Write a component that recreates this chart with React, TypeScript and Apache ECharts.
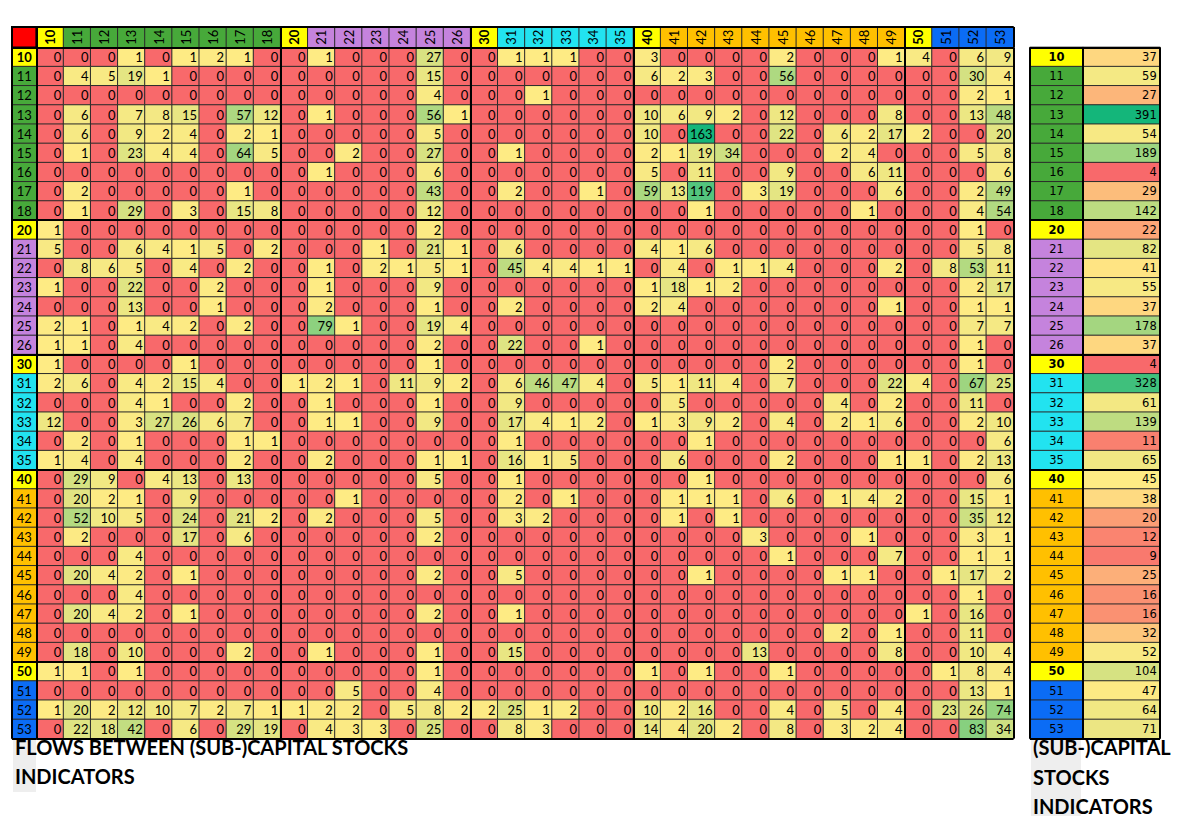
import React, { useEffect, useRef } from "react";
import * as echarts from "echarts";

// ---------- DATA ----------
const CODES = [
  "10", "11", "12", "13", "14", "15", "16", "17", "18",
  "20", "21", "22", "23", "24", "25", "26",
  "30", "31", "32", "33", "34", "35",
  "40", "41", "42", "43", "44", "45", "46", "47", "48", "49",
  "50", "51", "52", "53",
];

// rows = source indicator, columns = target indicator (same order as CODES)
const FLOWS: number[][] = [
  [0,0,0,1,0,1,2,1,0, 0,1,0,0,0,27,0, 0,1,1,1,0,0, 3,0,0,0,0,2,0,0,0,1,4, 0,6,9],
  [0,4,5,19,1,0,0,0,0, 0,0,0,0,0,15,0, 0,0,0,0,0,0, 6,2,3,0,0,56,0,0,0,0,0, 0,30,4],
  [0,0,0,0,0,0,0,0,0, 0,0,0,0,0,4,0, 0,0,1,0,0,0, 0,0,0,0,0,0,0,0,0,0,0, 0,2,1],
  [0,6,0,7,8,15,0,57,12, 0,1,0,0,0,56,1, 0,0,0,0,0,0, 10,6,9,2,0,12,0,0,0,8,0, 0,13,48],
  [0,6,0,9,2,4,0,2,1, 0,0,0,0,0,5,0, 0,0,0,0,0,0, 10,0,163,0,0,22,0,6,2,17,2, 0,0,20],
  [0,1,0,23,4,4,0,64,5, 0,0,2,0,0,27,0, 0,1,0,0,0,0, 2,1,19,34,0,0,0,2,4,0,0, 0,5,8],
  [0,0,0,0,0,0,0,0,0, 0,1,0,0,0,6,0, 0,0,0,0,0,0, 5,0,11,0,0,9,0,0,6,11,0, 0,0,6],
  [0,2,0,0,0,0,0,1,0, 0,0,0,0,0,43,0, 0,2,0,0,1,0, 59,13,119,0,3,19,0,0,0,6,0, 0,2,49],
  [0,1,0,29,0,3,0,15,8, 0,0,0,0,0,12,0, 0,0,0,0,0,0, 0,0,1,0,0,0,0,0,1,0,0, 0,4,54],
  [1,0,0,0,0,0,0,0,0, 0,0,0,0,0,2,0, 0,0,0,0,0,0, 0,0,0,0,0,0,0,0,0,0,0, 0,1,0],
  [5,0,0,6,4,1,5,0,2, 0,0,0,1,0,21,1, 0,6,0,0,0,0, 4,1,6,0,0,0,0,0,0,0,0, 0,5,8],
  [0,8,6,5,0,4,0,2,0, 0,1,0,2,1,5,1, 0,45,4,4,1,1, 0,4,0,1,1,4,0,0,0,2,0, 8,53,11],
  [1,0,0,22,0,0,2,0,0, 0,1,0,0,0,9,0, 0,0,0,0,0,0, 1,18,1,2,0,0,0,0,0,0,0, 0,2,17],
  [0,0,0,13,0,0,1,0,0, 0,2,0,0,0,1,0, 0,2,0,0,0,0, 2,4,0,0,0,0,0,0,0,1,0, 0,1,1],
  [2,1,0,1,4,2,0,2,0, 0,79,1,0,0,19,4, 0,0,0,0,0,0, 0,0,0,0,0,0,0,0,0,0,0, 0,7,7],
  [1,1,0,4,0,0,0,0,0, 0,0,0,0,0,2,0, 0,22,0,0,1,0, 0,0,0,0,0,0,0,0,0,0,0, 0,1,0],
  [1,0,0,0,0,1,0,0,0, 0,0,0,0,0,1,0, 0,0,0,0,0,0, 0,0,0,0,0,2,0,0,0,0,0, 0,1,0],
  [2,6,0,4,2,15,4,0,0, 1,2,1,0,11,9,2, 0,6,46,47,4,0, 5,1,11,4,0,7,0,0,0,22,4, 0,67,25],
  [0,0,0,4,1,0,0,2,0, 0,1,0,0,0,1,0, 0,9,0,0,0,0, 0,5,0,0,0,0,0,4,0,2,0, 0,11,0],
  [12,0,0,3,27,26,6,7,0, 0,1,1,0,0,9,0, 0,17,4,1,2,0, 1,3,9,2,0,4,0,2,1,6,0, 0,2,10],
  [0,2,0,1,0,0,0,1,1, 0,0,0,0,0,0,0, 0,1,0,0,0,0, 0,0,1,0,0,0,0,0,0,0,0, 0,0,6],
  [1,4,0,4,0,0,0,2,0, 0,2,0,0,0,1,1, 0,16,1,5,0,0, 0,6,0,0,0,2,0,0,0,1,1, 0,2,13],
  [0,29,9,0,4,13,0,13,0, 0,0,0,0,0,5,0, 0,1,0,0,0,0, 0,0,1,0,0,0,0,0,0,0,0, 0,0,6],
  [0,20,2,1,0,9,0,0,0, 0,0,1,0,0,0,0, 0,2,0,1,0,0, 0,1,1,1,0,6,0,1,4,2,0, 0,15,1],
  [0,52,10,5,0,24,0,21,2, 0,2,0,0,0,5,0, 0,3,2,0,0,0, 0,1,0,1,0,0,0,0,0,0,0, 0,35,12],
  [0,2,0,0,0,17,0,6,0, 0,0,0,0,0,2,0, 0,0,0,0,0,0, 0,0,0,0,3,0,0,0,1,0,0, 0,3,1],
  [0,0,0,4,0,0,0,0,0, 0,0,0,0,0,0,0, 0,0,0,0,0,0, 0,0,0,0,0,1,0,0,0,7,0, 0,1,1],
  [0,20,4,2,0,1,0,0,0, 0,0,0,0,0,2,0, 0,5,0,0,0,0, 0,0,1,0,0,0,0,1,1,0,0, 1,17,2],
  [0,0,0,4,0,0,0,0,0, 0,0,0,0,0,0,0, 0,0,0,0,0,0, 0,0,0,0,0,0,0,0,0,0,0, 0,1,0],
  [0,20,4,2,0,1,0,0,0, 0,0,0,0,0,2,0, 0,1,0,0,0,0, 0,0,0,0,0,0,0,0,0,0,1, 0,16,0],
  [0,0,0,0,0,0,0,0,0, 0,0,0,0,0,0,0, 0,0,0,0,0,0, 0,0,0,0,0,0,0,2,0,1,0, 0,11,0],
  [0,18,0,10,0,0,0,2,0, 0,1,0,0,0,1,0, 0,15,0,0,0,0, 0,0,0,0,13,0,0,0,0,8,0, 0,10,4],
  [1,1,0,1,0,0,0,0,0, 0,0,0,0,0,1,0, 0,0,0,0,0,0, 1,0,1,0,0,1,0,0,0,0,0, 1,8,4],
  [0,0,0,0,0,0,0,0,0, 0,0,5,0,0,4,0, 0,0,0,0,0,0, 0,0,0,0,0,0,0,0,0,0,0, 0,13,1],
  [1,20,2,12,10,7,2,7,1, 1,2,2,0,5,8,2, 2,25,1,2,0,0, 10,2,16,0,0,4,0,5,0,4,0, 23,26,74],
  [0,22,18,42,0,6,0,29,19, 0,4,3,3,0,25,0, 0,8,3,0,0,0, 14,4,20,2,0,8,0,3,2,4,0, 0,83,34],
];

const STOCK_TOTALS = [
  37, 59, 27, 391, 54, 189, 4, 29, 142,
  22, 82, 41, 55, 37, 178, 37,
  4, 328, 61, 139, 11, 65,
  45, 38, 20, 12, 9, 25, 16, 16, 32, 52,
  104, 47, 64, 71,
];

const LEFT_TITLE = ["FLOWS BETWEEN (SUB-)CAPITAL STOCKS", "INDICATORS"];
const RIGHT_TITLE = ["(SUB-)CAPITAL", "STOCKS", "INDICATORS"];

// ---------- STYLE ----------
// group key: 0 = aggregate (x0) indicator, 1..5 = capital family
const GROUP_PIECES = [
  { value: 0, color: "#FFFF00" },
  { value: 1, color: "#47A93A" },
  { value: 2, color: "#C583DD" },
  { value: 3, color: "#22E3F0" },
  { value: 4, color: "#FFC000" },
  { value: 5, color: "#0B6CF5" },
];
const RED = "#F8696B";
const YELLOW = "#FFEB84";
const GREEN = "#14B67A";
const FONT_CELL = 'Lato, "Noto Sans", sans-serif';
const FONT_PANEL = '"DejaVu Sans", Verdana, sans-serif';

// layout (px)
const X0 = 36.4;
const CW = 27.14;
const Y0 = 47.4;
const RH = 19.2;
const HEAD_TOP = 27;
const LBL_LEFT = 12;
const R_LBL_LEFT = 1030;
const R_LBL_W = 53;
const R_VAL_W = 77;

const isHead = (code: string) => code.endsWith("0");
const groupKey = (code: string) => (isHead(code) ? 0 : Number(code[0]));

function hexRgb(c: string) {
  const n = parseInt(c.slice(1), 16);
  return [(n >> 16) & 255, (n >> 8) & 255, n & 255];
}
function mix(a: string, b: string, t: number) {
  const A = hexRgb(a);
  const B = hexRgb(b);
  const tt = Math.max(0, Math.min(1, t));
  return "rgb(" + A.map((x, i) => Math.round(x + (B[i] - x) * tt)).join(",") + ")";
}
function threeColor(v: number, min: number, mid: number, max: number) {
  if (v <= mid) return mix(RED, YELLOW, (v - min) / (mid - min));
  return mix(YELLOW, GREEN, (v - mid) / (max - mid));
}
function median(arr: number[]) {
  const s = [...arr].sort((a, b) => a - b);
  const m = s.length / 2;
  return s.length % 2 ? s[Math.floor(m)] : (s[m - 1] + s[m]) / 2;
}

export default function App() {
  const ref = useRef<HTMLDivElement>(null);

  useEffect(() => {
    if (!ref.current) return;
    const chart = echarts.init(ref.current, undefined, { renderer: "svg" });
    const N = CODES.length;

    const mainData: number[][] = [];
    FLOWS.forEach((row, r) => row.forEach((v, c) => mainData.push([c, r, v])));
    const maxFlow = Math.max(...FLOWS.flat());

    const tMin = Math.min(...STOCK_TOTALS);
    const tMax = Math.max(...STOCK_TOTALS);
    const tMid = median(STOCK_TOTALS);
    const K = 80;
    const totalStops = Array.from({ length: K }, (_, k) =>
      threeColor(tMin + ((tMax - tMin) * k) / (K - 1), tMin, tMid, tMax)
    );

    const groupSplit = (w: number) => ({
      show: true,
      interval: (i: number) => isHead(CODES[i]),
      lineStyle: { color: "#000", width: w },
    });
    const edgeSplit = (w: number) => ({
      show: true,
      interval: () => true,
      lineStyle: { color: "#000", width: w },
    });
    const hidden = {
      axisLine: { show: false },
      axisTick: { show: false },
      axisLabel: { show: false },
      z: 10,
    };
    const codeAxis = (gridIndex: number, inverse: boolean) => ({
      type: "category",
      gridIndex,
      data: CODES,
      inverse,
      ...hidden,
      splitLine: groupSplit(2),
    });
    const oneAxis = (gridIndex: number, name: string) => ({
      type: "category",
      gridIndex,
      data: [name],
      ...hidden,
      splitLine: edgeSplit(2),
    });

    const cellBorder = { borderColor: "#2a2a2a", borderWidth: 1 };

    const headerData = CODES.map((code, i) => ({
      value: [i, 0, groupKey(code)],
      label: { fontWeight: isHead(code) ? "bold" : "normal" },
    }));
    const rowLabelData = CODES.map((code, i) => ({
      value: [0, i, groupKey(code)],
      label: { fontWeight: isHead(code) ? "bold" : "normal" },
    }));
    const totalData = STOCK_TOTALS.map((v, i) => [0, i, v]);

    const option: any = {
      animation: false,
      backgroundColor: "#ffffff",
      grid: [
        { left: X0, top: Y0, width: CW * N, height: RH * N },
        { left: X0, top: HEAD_TOP, width: CW * N, height: Y0 - HEAD_TOP },
        { left: LBL_LEFT, top: Y0, width: X0 - LBL_LEFT, height: RH * N },
        { left: R_LBL_LEFT, top: Y0, width: R_LBL_W, height: RH * N },
        { left: R_LBL_LEFT + R_LBL_W, top: Y0, width: R_VAL_W, height: RH * N },
      ],
      xAxis: [
        codeAxis(0, false),
        codeAxis(1, false),
        oneAxis(2, "label"),
        oneAxis(3, "label"),
        oneAxis(4, "value"),
      ],
      yAxis: [
        codeAxis(0, true),
        oneAxis(1, "header"),
        codeAxis(2, true),
        codeAxis(3, true),
        codeAxis(4, true),
      ],
      visualMap: [
        {
          // zero flows fall outside the selected range -> red; positive flows yellow -> green
          type: "continuous",
          show: false,
          seriesIndex: 0,
          dimension: 2,
          min: 0,
          max: maxFlow,
          range: [0.5, maxFlow],
          inRange: { color: [YELLOW, GREEN] },
          outOfRange: { color: [RED] },
        },
        {
          type: "piecewise",
          show: false,
          seriesIndex: [1, 2, 3],
          dimension: 2,
          pieces: GROUP_PIECES,
        },
        {
          type: "continuous",
          show: false,
          seriesIndex: 4,
          dimension: 2,
          min: tMin,
          max: tMax,
          inRange: { color: totalStops },
        },
      ],
      series: [
        {
          name: "Flows",
          type: "heatmap",
          xAxisIndex: 0,
          yAxisIndex: 0,
          data: mainData,
          itemStyle: cellBorder,
          label: {
            show: true,
            position: "insideRight",
            distance: 3,
            color: "#000",
            fontSize: 13,
            fontFamily: FONT_CELL,
            formatter: (p: any) => String(p.value[2]),
          },
        },
        {
          name: "Column codes",
          type: "heatmap",
          xAxisIndex: 1,
          yAxisIndex: 1,
          data: headerData,
          itemStyle: cellBorder,
          label: {
            show: true,
            position: "inside",
            rotate: 90,
            color: "#000",
            fontSize: 13,
            fontFamily: FONT_CELL,
            formatter: (p: any) => CODES[p.value[0]],
          },
        },
        {
          name: "Row codes",
          type: "heatmap",
          xAxisIndex: 2,
          yAxisIndex: 2,
          data: rowLabelData,
          itemStyle: cellBorder,
          label: {
            show: true,
            position: "inside",
            color: "#000",
            fontSize: 13,
            fontFamily: FONT_CELL,
            formatter: (p: any) => CODES[p.value[1]],
          },
        },
        {
          name: "Stock codes",
          type: "heatmap",
          xAxisIndex: 3,
          yAxisIndex: 3,
          data: rowLabelData,
          itemStyle: cellBorder,
          label: {
            show: true,
            position: "inside",
            color: "#000",
            fontSize: 11.5,
            fontFamily: FONT_PANEL,
            formatter: (p: any) => CODES[p.value[1]],
          },
        },
        {
          name: "Stock totals",
          type: "heatmap",
          xAxisIndex: 4,
          yAxisIndex: 4,
          data: totalData,
          itemStyle: cellBorder,
          label: {
            show: true,
            position: "insideRight",
            distance: 4,
            color: "#000",
            fontSize: 11.5,
            fontFamily: FONT_PANEL,
            formatter: (p: any) => String(p.value[2]),
          },
        },
      ],
      graphic: [
        {
          type: "rect",
          z: 20,
          shape: { x: LBL_LEFT, y: HEAD_TOP, width: X0 - LBL_LEFT, height: Y0 - HEAD_TOP },
          style: { fill: "#FF0000", stroke: "#000", lineWidth: 2 },
        },
        {
          type: "rect",
          z: 1,
          shape: { x: 13, y: 740, width: 23, height: 52 },
          style: { fill: "#EEEEEE" },
        },
        {
          type: "rect",
          z: 1,
          shape: { x: 1031, y: 740, width: 50, height: 76 },
          style: { fill: "#EEEEEE" },
        },
        ...LEFT_TITLE.map((t, i) => ({
          type: "text",
          z: 5,
          left: 15,
          top: 737 + i * 29,
          style: { text: t, font: "bold 20px Lato, 'Noto Sans', sans-serif", fill: "#000" },
        })),
        ...RIGHT_TITLE.map((t, i) => ({
          type: "text",
          z: 5,
          left: 1033,
          top: 737 + i * 29.5,
          style: { text: t, font: "bold 20px Lato, 'Noto Sans', sans-serif", fill: "#000" },
        })),
      ],
    };

    chart.setOption(option);
    return () => chart.dispose();
  }, []);

  return (
    <div
      ref={ref}
      style={{ position: "fixed", left: 0, top: 0, width: 1180, height: 816, background: "#fff" }}
    />
  );
}
